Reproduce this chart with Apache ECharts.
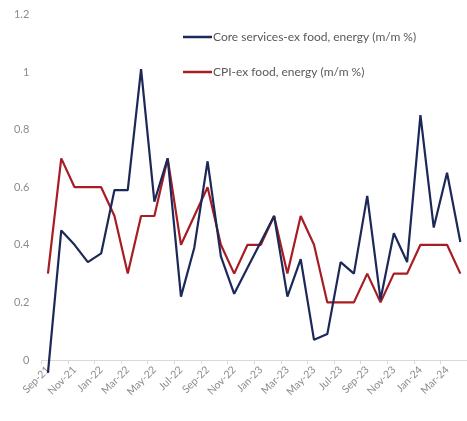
<!DOCTYPE html>
<html><head><meta charset="utf-8">
<script src="https://cdn.jsdelivr.net/npm/echarts@6/dist/echarts.min.js"></script>
<style>html,body{margin:0;padding:0;background:#fff}#c{width:467px;height:421px}</style>
</head><body><div id="c"></div>
<script>
const categories = ["Sep-21","Oct-21","Nov-21","Dec-21","Jan-22","Feb-22","Mar-22","Apr-22","May-22","Jun-22","Jul-22","Aug-22","Sep-22","Oct-22","Nov-22","Dec-22","Jan-23","Feb-23","Mar-23","Apr-23","May-23","Jun-23","Jul-23","Aug-23","Sep-23","Oct-23","Nov-23","Dec-23","Jan-24","Feb-24","Mar-24","Apr-24"];
const coreServices = [-0.045,0.45,0.40,0.34,0.37,0.59,0.59,1.01,0.55,0.70,0.22,0.39,0.69,0.36,0.23,0.32,0.41,0.50,0.22,0.35,0.07,0.09,0.34,0.30,0.57,0.21,0.44,0.34,0.85,0.46,0.65,0.41];
const cpiCore = [0.3,0.7,0.6,0.6,0.6,0.5,0.3,0.5,0.5,0.7,0.4,0.5,0.6,0.4,0.3,0.4,0.4,0.5,0.3,0.5,0.4,0.2,0.2,0.2,0.3,0.2,0.3,0.3,0.4,0.4,0.4,0.3];
const seriesNames = ["Core services-ex food, energy (m/m %)","CPI-ex food, energy (m/m %)"];
const yTicks = {min:0, max:1.2, interval:0.2};

const FONT = "Lato,'Liberation Sans',Arial,sans-serif";
const chart = echarts.init(document.getElementById('c'), null, {renderer:'canvas'});
chart.setOption({
  animation:false,
  backgroundColor:'#fff',
  grid:{left:41.3, right:0, top:14.4, bottom:61, containLabel:false},
  legend:{
    orient:'vertical', left:178, top:26, itemGap:23,
    icon:'rect', itemWidth:29, itemHeight:2.5,
    textStyle:{color:'#595959', fontSize:12, fontFamily:FONT, padding:[0,0,0,-4]},
    data:seriesNames
  },
  xAxis:{
    type:'category', data:categories, boundaryGap:true,
    axisLine:{show:true, lineStyle:{color:'#d9d9d9', width:1}},
    axisTick:{show:true, interval:1, length:4, lineStyle:{color:'#d9d9d9'}},
    axisLabel:{interval:1, rotate:45, color:'#8c8c8c', fontSize:10.5, fontFamily:FONT, margin:8},
    splitLine:{show:false}
  },
  yAxis:{
    type:'value', min:yTicks.min, max:yTicks.max, interval:yTicks.interval,
    axisLine:{show:false}, axisTick:{show:false}, splitLine:{show:false},
    axisLabel:{color:'#8c8c8c', fontSize:11, fontFamily:FONT, margin:12,
      formatter:v=>String(Math.round(v*10)/10)}
  },
  series:[
    {name:seriesNames[0], type:'line', data:coreServices, showSymbol:false, symbol:'none', clip:false,
     lineStyle:{color:'#1c2857', width:2.2}, itemStyle:{color:'#1c2857'}, z:3},
    {name:seriesNames[1], type:'line', data:cpiCore, showSymbol:false, symbol:'none', clip:false,
     lineStyle:{color:'#a81c24', width:2.2}, itemStyle:{color:'#a81c24'}, z:2}
  ]
});
</script></body></html>
